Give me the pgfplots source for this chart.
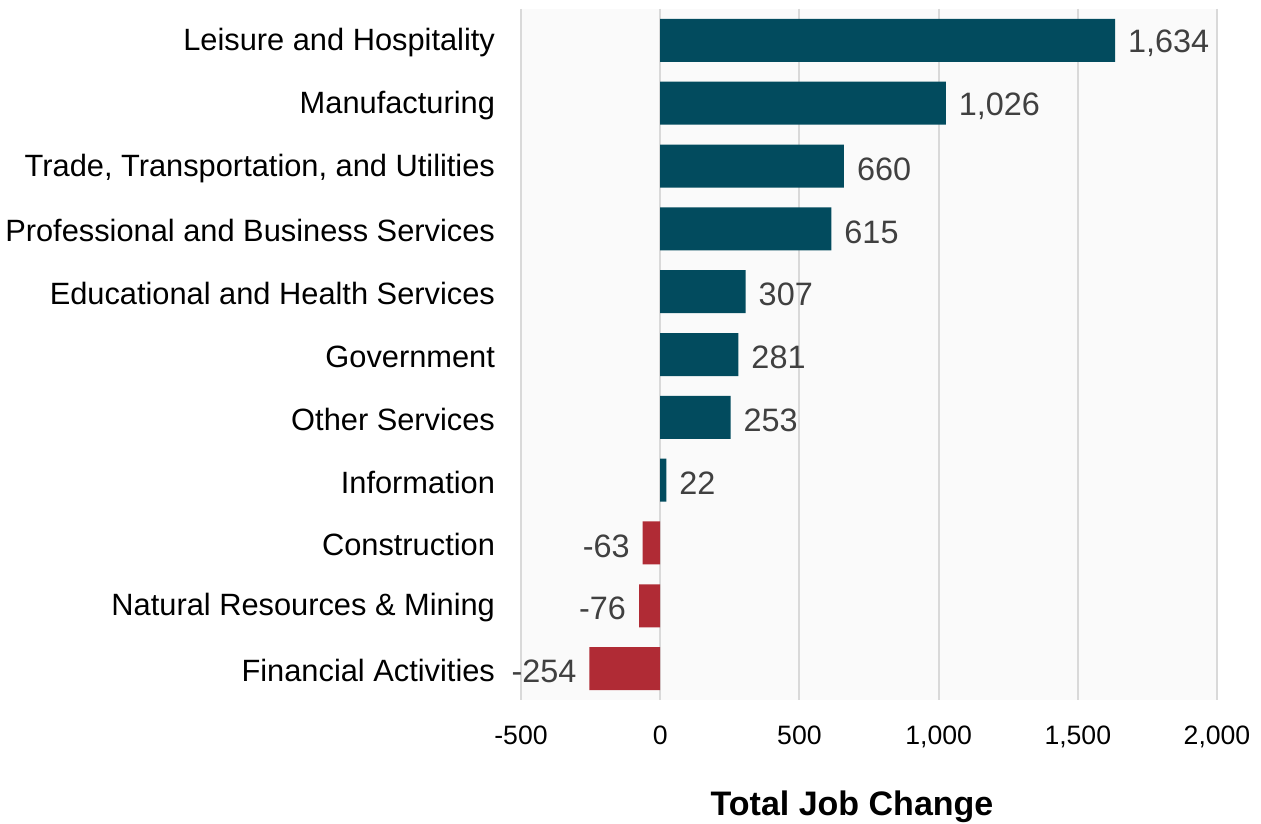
\documentclass[border=0pt]{standalone}
\usepackage{fontspec}
\setmainfont{Liberation Sans}
\usepackage{pgfplots}
\pgfplotsset{compat=1.18}
\definecolor{barpos}{HTML}{024B5E}
\definecolor{barneg}{HTML}{B02B35}
\definecolor{plotbg}{HTML}{FAFAFA}
\definecolor{gridc}{HTML}{D9D9D9}
\definecolor{lblc}{HTML}{404040}

\begin{document}
\begin{tikzpicture}
\begin{axis}[
  scale only axis, width=348pt, height=345.5pt,
  xbar, bar width=21.5pt, bar shift=0pt,
  xmin=-500, xmax=2000, ymin=-0.5, ymax=10.5, y dir=reverse,
  xtick={-500,0,500,1000,1500,2000}, ytick={0,...,10},
  yticklabels={Leisure and Hospitality, Manufacturing,
    {Trade, Transportation, and Utilities},
    Professional and Business Services, Educational and Health Services,
    Government, Other Services, Information, Construction,
    Natural Resources \& Mining, Financial Activities},
  axis line style={draw=none}, major tick length=0pt,
  xmajorgrids, major grid style={gridc, line width=1pt},
  axis background/.style={fill=plotbg},
  /pgf/number format/assume math mode=true,
  /pgf/number format/1000 sep={,},
  xticklabel style={font=\fontsize{13.3pt}{15pt}\selectfont},
  yticklabel style={font=\fontsize{15.4pt}{18pt}\selectfont, yshift=-1pt},
  xticklabel shift=9.5pt, yticklabel shift=9.5pt,
  xlabel={Total Job Change},
  xlabel style={font=\fontsize{17pt}{20pt}\selectfont\bfseries,
    at={(axis description cs:0.4756,0)}, anchor=base, yshift=-57.5pt},
  nodes near coords, point meta=x,
  every node near coord/.append style={font=\fontsize{16.2pt}{19pt}\selectfont, text=lblc, yshift=-1.5pt},
]
\addplot[fill=barpos, draw=none,
  every node near coord/.append style={anchor=west, xshift=3pt}]
  coordinates {(1634,0) (1026,1) (660,2) (615,3) (307,4) (281,5) (253,6) (22,7)};
\addplot[fill=barneg, draw=none,
  every node near coord/.append style={anchor=east, xshift=-3pt}]
  coordinates {(-63,8) (-76,9) (-254,10)};
\end{axis}
\pgfresetboundingbox
\path[use as bounding box] ([shift={(-260.5pt,-61.5pt)}]current axis.south west)
  rectangle ([shift={(370pt,350pt)}]current axis.south west);
\end{tikzpicture}
\end{document}
